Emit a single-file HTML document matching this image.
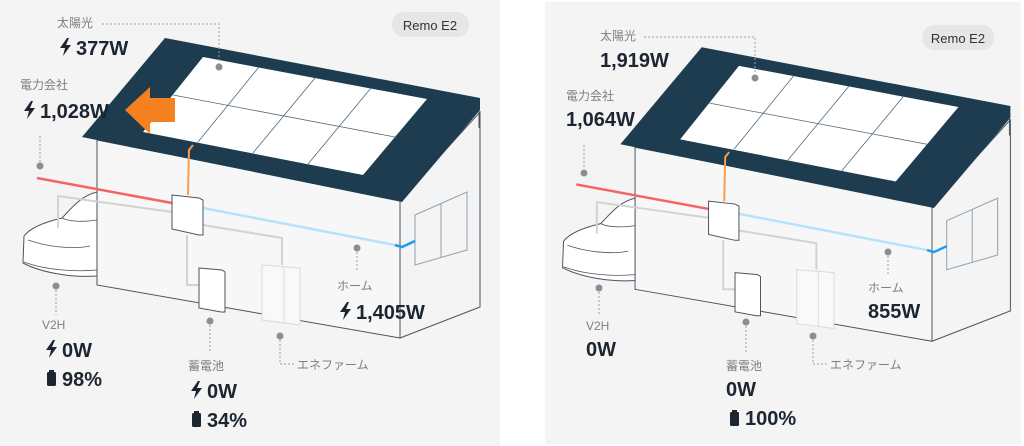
<!DOCTYPE html>
<html><head><meta charset="utf-8"><style>
body{margin:0;width:1024px;height:446px;background:#fff;overflow:hidden;font-family:"Liberation Sans","Noto Sans CJK JP",sans-serif}
svg{position:absolute;left:0;top:0}
.l{fill:#7a7f85;font-size:12px}
.v{fill:#1c2530;font-size:20px;font-weight:bold}
</style></head><body>
<svg width="1024" height="446" viewBox="0 0 1024 446">
<defs>
<path id="bolt" d="M7,0 L0,10 L5,10 L3,18 L11,7 L6,7 L9,0 Z" fill="#1c2530"/>
<g id="batt"><rect x="2" y="0" width="5" height="2" fill="#1c2530"/><rect x="0" y="2" width="9" height="14" rx="1.5" fill="#1c2530"/></g>
<g id="scene">
  <polygon points="97,140 400,200 400,338 97,285" fill="#f7f7f7" stroke="#4a5560" stroke-width="1"/>
  <polyline points="400,200 480,112 480,307 400,338" fill="none" stroke="#4a5560" stroke-width="1"/>
  <polygon points="165,38 480,98 480,110 402,202 82,137" fill="#1d3c4f"/>
  <line x1="479" y1="110" x2="479" y2="128" stroke="#4a5560"/>
  <polygon points="203,57 427,99 363,175 143,132" fill="#fff"/>
  <g stroke="#52687a" stroke-width="0.8">
    <line x1="173" y1="95" x2="395" y2="137"/>
    <line x1="259" y1="67" x2="198" y2="142"/>
    <line x1="315" y1="78" x2="253" y2="153"/>
    <line x1="371" y1="88" x2="308" y2="164"/>
  </g>
  <polygon points="415,215 467,192 467,250 415,265" fill="none" stroke="#8da2b2" stroke-width="1"/>
  <line x1="441" y1="203" x2="441" y2="257" stroke="#8da2b2"/>
  <path d="M97,192 C80,196 70,210 62,218 C45,222 30,228 24,236 L23,263 C40,272 70,278 97,276 Z" fill="#fff" stroke="#4a5560" stroke-width="1"/>
  <path d="M28,240 C45,246 70,250 90,246 M62,218 C70,222 85,222 97,220 M24,262 C45,270 75,272 97,270" fill="none" stroke="#4a5560" stroke-width="0.8"/>
  <polyline points="58,228 58,196 172,212" fill="none" stroke="#d0d2d4" stroke-width="2"/>
  <polyline points="203,225 282,238 282,265" fill="none" stroke="#d0d2d4" stroke-width="2"/>
  <polyline points="187,235 187,285 200,285" fill="none" stroke="#d0d2d4" stroke-width="2"/>
  <line x1="37" y1="178" x2="172" y2="203" stroke="#f56464" stroke-width="2.5"/>
  <polyline points="203,208 395,245" fill="none" stroke="#b5e3fb" stroke-width="2.5"/>
  <polyline points="395,245 402,247 415,241" fill="none" stroke="#1a9cf0" stroke-width="2.5"/>
  <polyline points="193,145 189,150 188,195" fill="none" stroke="#f79d4f" stroke-width="2"/>
  <polygon points="172,195 199,198 203,200 203,235 199,235 172,229" fill="#fff" stroke="#4a5560" stroke-width="1"/>
  <polygon points="199,268 222,270 225,272 225,312 221,312 199,308" fill="#fff" stroke="#4a5560" stroke-width="1"/>
  <polygon points="262,265 300,268 300,325 262,320" fill="#f9f9f9" stroke="#d8dadc" stroke-width="1"/>
  <line x1="284" y1="267" x2="284" y2="324" stroke="#d8dadc"/>
</g>
</defs>
<rect x="0" y="0" width="500" height="446" fill="#f4f4f4"/>
<rect x="545" y="2" width="476" height="442" fill="#f4f4f4"/>
<use href="#scene"/>
<g transform="translate(540,10) scale(0.98)"><use href="#scene"/></g>

<rect x="392" y="12" width="77" height="25" rx="12" fill="#e6e6e6"/>
<text x="430" y="30" text-anchor="middle" font-size="13" fill="#333">Remo E2</text>
<g fill="#8a8e93">
<circle cx="219" cy="67" r="3.5"/><circle cx="40" cy="166" r="3.5"/><circle cx="56" cy="286" r="3.5"/>
<circle cx="210" cy="321" r="3.5"/><circle cx="280" cy="336" r="3.5"/><circle cx="357" cy="248" r="3.5"/>
</g>
<g stroke="#9a9ea3" stroke-dasharray="2,2" fill="none">
<polyline points="102,24 219,24 219,64"/><line x1="40" y1="136" x2="40" y2="162"/>
<line x1="56" y1="290" x2="56" y2="315"/><line x1="210" y1="325" x2="210" y2="352"/>
<polyline points="280,340 280,364 295,364"/><line x1="357" y1="252" x2="357" y2="272"/>
</g>
<text class="l" x="57" y="27">太陽光</text>
<use href="#bolt" x="60" y="38"/><text class="v" x="76" y="55">377W</text>
<text class="l" x="20" y="89">電力会社</text>
<use href="#bolt" x="24" y="101"/><text class="v" x="40" y="118">1,028W</text>
<polygon points="125,110 150,87 150,98 175,98 175,122 150,122 150,134" fill="#f4801f"/>
<text class="l" x="42" y="329">V2H</text>
<use href="#bolt" x="46" y="340"/><text class="v" x="62" y="357">0W</text>
<use href="#batt" x="47" y="370"/><text class="v" x="62" y="386">98%</text>
<text class="l" x="188" y="370">蓄電池</text>
<use href="#bolt" x="191" y="381"/><text class="v" x="207" y="398">0W</text>
<use href="#batt" x="192" y="411"/><text class="v" x="207" y="427">34%</text>
<text class="l" x="297" y="369">エネファーム</text>
<text class="l" x="337" y="290">ホーム</text>
<use href="#bolt" x="340" y="302"/><text class="v" x="356" y="319">1,405W</text>

<rect x="922" y="25" width="72" height="25" rx="12" fill="#e6e6e6"/>
<text x="958" y="43" text-anchor="middle" font-size="13" fill="#333">Remo E2</text>
<g fill="#8a8e93">
<circle cx="755" cy="78" r="3.5"/><circle cx="584" cy="173" r="3.5"/><circle cx="599" cy="288" r="3.5"/>
<circle cx="746" cy="322" r="3.5"/><circle cx="813" cy="336" r="3.5"/><circle cx="888" cy="252" r="3.5"/>
</g>
<g stroke="#9a9ea3" stroke-dasharray="2,2" fill="none">
<polyline points="644,37 755,37 755,74"/><line x1="584" y1="145" x2="584" y2="169"/>
<line x1="599" y1="292" x2="599" y2="314"/><line x1="746" y1="326" x2="746" y2="352"/>
<polyline points="813,340 813,364 828,364"/><line x1="888" y1="256" x2="888" y2="276"/>
</g>
<text class="l" x="600" y="40">太陽光</text>
<text class="v" x="600" y="67">1,919W</text>
<text class="l" x="566" y="100">電力会社</text>
<text class="v" x="566" y="126">1,064W</text>
<text class="l" x="586" y="330">V2H</text>
<text class="v" x="586" y="356">0W</text>
<text class="l" x="726" y="370">蓄電池</text>
<text class="v" x="726" y="396">0W</text>
<use href="#batt" x="730" y="410"/><text class="v" x="745" y="425">100%</text>
<text class="l" x="830" y="369">エネファーム</text>
<text class="l" x="868" y="292">ホーム</text>
<text class="v" x="868" y="318">855W</text>
</svg>
</body></html>
